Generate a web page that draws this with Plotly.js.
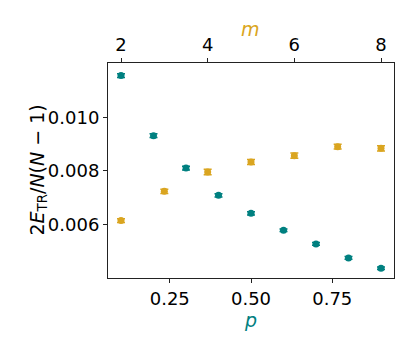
<!DOCTYPE html>
<html>
<head>
<meta charset="utf-8">
<script src="https://cdn.plot.ly/plotly-3.0.1.min.js"></script>
<style>
  html, body { margin: 0; padding: 0; background: #fff; }
  #chart { width: 415px; height: 346px; }
</style>
</head>
<body>
<div id="chart"></div>
<script>
// bottom axis series: energy vs p
const pValues = [0.1, 0.2, 0.3, 0.4, 0.5, 0.6, 0.7, 0.8, 0.9]
const pEnergy = [0.01156, 0.00931, 0.00810, 0.00708, 0.00641, 0.005775, 0.005264, 0.00474, 0.004354]
const pError = [0.00007, 0.00007, 0.00007, 0.00006, 0.00006, 0.00005, 0.00005, 0.00005, 0.00005]

// top axis series: energy vs m
const mValues = [2, 3, 4, 5, 6, 7, 8]
const mEnergy = [0.006136, 0.007233, 0.007955, 0.008329, 0.008566, 0.008902, 0.00884]
const mError = [0.00007, 0.00008, 0.0001, 0.00009, 0.0001, 0.00009, 0.0001]

const TEAL = '#008080'
const GOLD = '#DAA520'
const FONT = '"DejaVu Sans", Verdana, sans-serif'

const traceP = {
  x: pValues,
  y: pEnergy,
  error_y: { type: 'data', array: pError, visible: true, color: TEAL, thickness: 1.5, width: 4 },
  type: 'scatter',
  mode: 'markers',
  marker: { color: TEAL, size: 7 },
  xaxis: 'x',
  yaxis: 'y',
  showlegend: false
}

const traceM = {
  x: mValues,
  y: mEnergy,
  error_y: { type: 'data', array: mError, visible: true, color: GOLD, thickness: 1.5, width: 4 },
  type: 'scatter',
  mode: 'markers',
  marker: { color: GOLD, size: 7 },
  xaxis: 'x2',
  yaxis: 'y',
  showlegend: false
}

const axisCommon = {
  showgrid: false,
  zeroline: false,
  showline: true,
  linecolor: '#222',
  linewidth: 1,
  ticks: 'outside',
  ticklen: 4,
  tickwidth: 1,
  tickcolor: '#222',
  tickfont: { family: FONT, size: 18, color: '#000' }
}

// axis titles placed as annotations so they sit where the reference has them
const titleAnn = (text, x, y, color, angle) => ({
  text: text,
  xref: 'paper', yref: 'paper',
  x: x, y: y,
  xanchor: 'center', yanchor: 'middle',
  showarrow: false,
  textangle: angle || 0,
  font: { family: FONT, size: 19, color: color }
})

const layout = {
  width: 415,
  height: 346,
  margin: { l: 108, r: 21, t: 63, b: 68 },
  paper_bgcolor: '#fff',
  plot_bgcolor: '#fff',
  font: { family: FONT, color: '#000' },
  xaxis: Object.assign({}, axisCommon, {
    range: [0.06, 0.94],
    tickvals: [0.25, 0.5, 0.75],
    ticktext: ['0.25', '0.50', '0.75'],
    mirror: true
  }),
  xaxis2: Object.assign({}, axisCommon, {
    range: [1.7, 8.3],
    tickvals: [2, 4, 6, 8],
    overlaying: 'x',
    side: 'top'
  }),
  yaxis: Object.assign({}, axisCommon, {
    range: [0.00399, 0.01203],
    tickvals: [0.006, 0.008, 0.010],
    ticktext: ['0.006', '0.008', '0.010'],
    mirror: true
  }),
  annotations: [
    // paper coords: plot spans x 108..394, y 63..278 (px)
    titleAnn('<i>p</i>', (250 - 108) / 286, -(320 - 278) / 215, TEAL),
    titleAnn('<i>m</i>', (250 - 108) / 286, 1 + (63 - 29) / 215, GOLD),
    titleAnn('2<i>E</i><sub>TR</sub>/<i>N</i>(<i>N</i> − 1)', -(108 - 38) / 286, 0.5, '#000', -90)
  ]
}

Plotly.newPlot('chart', [traceP, traceM], layout, { displayModeBar: false, responsive: false })
</script>
</body>
</html>
